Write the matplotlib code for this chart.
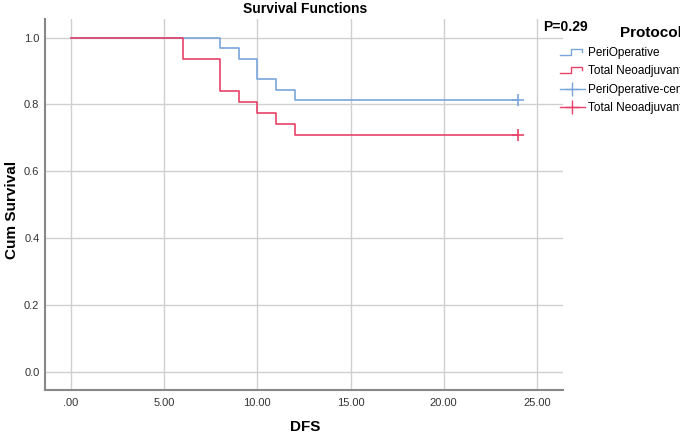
import matplotlib
matplotlib.use("Agg")
import matplotlib.pyplot as plt
from matplotlib.lines import Line2D
from matplotlib.legend_handler import HandlerBase
from matplotlib.ticker import FuncFormatter

plt.rcParams['font.family'] = ['Liberation Sans Narrow', 'Liberation Sans', 'DejaVu Sans']

# Kaplan-Meier step data
peri_times = [0, 8, 9, 10, 11, 12, 24]
peri_surv = [1.0, 0.969, 0.9375, 0.875, 0.844, 0.8125, 0.8125]
tna_times = [0, 6, 8, 9, 10, 11, 12, 24]
tna_surv = [1.0, 0.935, 0.839, 0.806, 0.774, 0.742, 0.710, 0.710]
censor_time = 24
peri_censor = 0.8125
tna_censor = 0.710

x_ticks = [0, 5, 10, 15, 20, 25]
y_ticks = [0.0, 0.2, 0.4, 0.6, 0.8, 1.0]

blue = "#7aa6da"
red = "#e8426a"


class StepHandler(HandlerBase):
    def create_artists(self, legend, orig_handle, xdescent, ydescent,
                       width, height, fontsize, trans):
        x0 = -xdescent
        y0 = -ydescent
        xs = [x0, x0 + width * 0.45, x0 + width * 0.45, x0 + width * 0.9, x0 + width * 0.9]
        ys = [y0 + height * 0.15, y0 + height * 0.15, y0 + height * 0.85,
              y0 + height * 0.85, y0 + height * 0.5]
        ln = Line2D(xs, ys, color=orig_handle.get_color(), lw=1.0, transform=trans)
        return [ln]


fig = plt.figure(figsize=(6.8, 4.34), dpi=100)
ax = fig.add_axes([45 / 680, 1 - 390 / 434, 518 / 680, 371 / 434])

ax.step(peri_times, peri_surv, where="post", color=blue, lw=1.2)
ax.step(tna_times, tna_surv, where="post", color=red, lw=1.2)
ax.plot([censor_time], [peri_censor], marker="+", color=blue, ms=8, mew=1.2, ls="none")
ax.plot([censor_time], [tna_censor], marker="+", color=red, ms=8, mew=1.2, ls="none")

ax.set_xlim(-1.39, 26.4)
ax.set_ylim(-0.055, 1.056)
ax.set_xticks(x_ticks)
ax.set_yticks(y_ticks)
ax.xaxis.set_major_formatter(FuncFormatter(lambda v, p: ".00" if v == 0 else f"{v:.2f}"))
ax.yaxis.set_major_formatter(FuncFormatter(lambda v, p: f"{v:.1f}"))
ax.tick_params(length=0, labelsize=8, colors="#333333")
ax.tick_params(axis="x", pad=6)
ax.tick_params(axis="y", pad=4)
ax.grid(True, color="#d0d0d0", lw=1.0)
ax.set_axisbelow(True)
for s in ["top", "right"]:
    ax.spines[s].set_visible(False)
for s in ["left", "bottom"]:
    ax.spines[s].set_color("#888888")
    ax.spines[s].set_linewidth(1.5)

fig.text(305 / 680, 1 - 427 / 434, "DFS", ha="center", va="center",
         fontsize=11, fontweight="bold")
fig.text(12 / 680, 1 - 210 / 434, "Cum Survival", ha="center", va="center",
         rotation=90, fontsize=11, fontweight="bold")
fig.text(305 / 680, 1 - 9 / 434, "Survival Functions", ha="center", va="center",
         fontsize=10, fontweight="bold")
fig.text(543 / 680, 1 - 27 / 434, "P=0.29", ha="left", va="center",
         fontsize=10, fontweight="bold")
fig.text(620 / 680, 1 - 33 / 434, "Protocol", ha="left", va="center",
         fontsize=11, fontweight="bold")

h1 = Line2D([], [], color=blue)
h2 = Line2D([], [], color=red)
h3 = Line2D([], [], color=blue, marker="+", ms=10, lw=1.0)
h4 = Line2D([], [], color=red, marker="+", ms=10, lw=1.0)
leg = fig.legend([h1, h2, h3, h4],
                 ["PeriOperative", "Total Neoadjuvant", "PeriOperative-censored",
                  "Total Neoadjuvant-censored"],
                 handler_map={h1: StepHandler(), h2: StepHandler()},
                 loc="upper left", bbox_to_anchor=(560 / 680, 1 - 47 / 434), frameon=False,
                 fontsize=8.5, handlelength=2.1, handletextpad=0.3,
                 labelspacing=0.55, borderaxespad=0, borderpad=0)

fig.savefig("out.png", dpi=100)
